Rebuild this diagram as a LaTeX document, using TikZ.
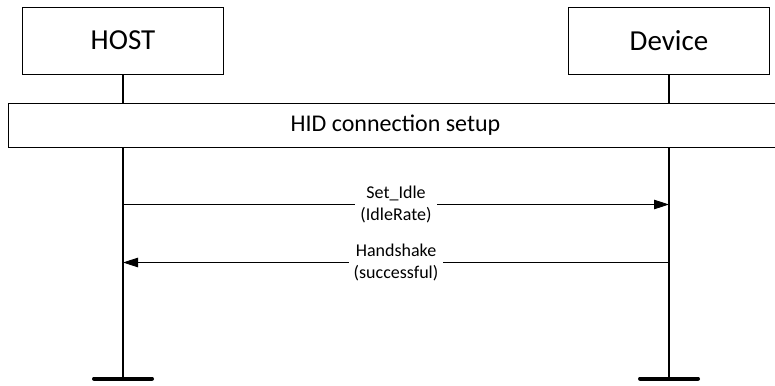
\documentclass[tikz,border=0pt]{standalone}
\usepackage{fontspec}
\setmainfont{Carlito}
\usetikzlibrary{arrows.meta}
\tikzset{
  entity/.style={draw, line width=0.8pt, minimum width=201pt, minimum height=67pt, inner sep=0pt, font=\fontsize{29}{34}\selectfont},
  phase/.style={draw, line width=0.8pt, minimum width=775pt, minimum height=44pt, inner sep=0pt, font=\fontsize{24}{28}\selectfont},
  life/.style={line width=2pt},
  endbar/.style={line width=4pt, line cap=round},
  msg/.style={line width=0.9pt, -{Triangle[length=15pt,width=9.5pt]}},
  lbl/.style={fill=white, align=center, inner xsep=5pt, inner ysep=1pt, font=\fontsize{18}{22}\selectfont}
}
\begin{document}
\begin{tikzpicture}[x=1pt,y=-1pt]
\useasboundingbox (0,0) rectangle (775,385);
\clip (0,0) rectangle (775,385);
\node[entity] (host) at (123,40.5) {HOST};
\node[entity] (device) at (669,40.5) {Device};
\node[phase] (setup) at (395.5,125) {HID connection setup};
\coordinate (hend) at (123,378.5);
\coordinate (dend) at (669,378.5);
\coordinate (h1) at (123,204.5);
\coordinate (d1) at (669,204.5);
\coordinate (h2) at (123,262.5);
\coordinate (d2) at (669,262.5);
\draw[life] (host.south) -- (host.south |- setup.north);
\draw[life] (device.south) -- (device.south |- setup.north);
\draw[life] (host.south |- setup.south) -- (hend);
\draw[life] (device.south |- setup.south) -- (dend);
\draw[endbar] ([xshift=-29pt]hend) -- ([xshift=29pt]hend);
\draw[endbar] ([xshift=-29pt]dend) -- ([xshift=29pt]dend);
\draw[msg] (h1) -- node[lbl] {Set\_Idle\\(IdleRate)} (d1);
\draw[msg] (d2) -- node[lbl] {Handshake\\(successful)} (h2);
\end{tikzpicture}
\end{document}
